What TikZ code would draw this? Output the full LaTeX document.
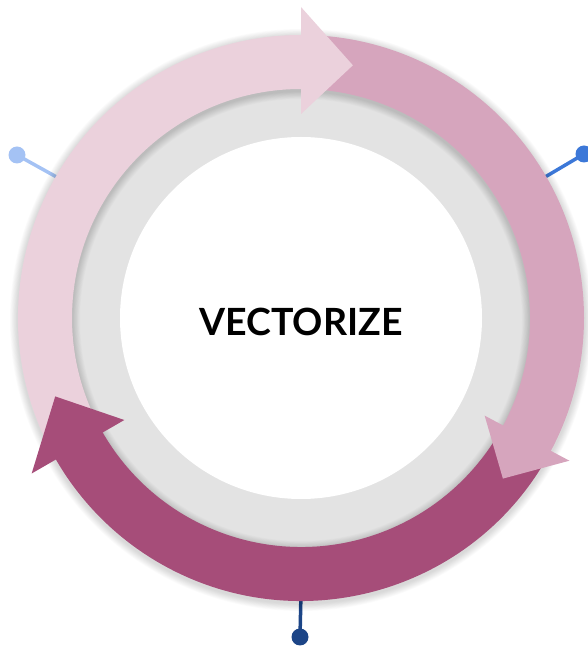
\documentclass[tikz,border=0pt]{standalone}
\usepackage{fontspec}
\setmainfont{Lato}
\usetikzlibrary{calc}
\definecolor{lightp}{HTML}{EBD1DC}
\definecolor{midp}{HTML}{D6A5BD}
\definecolor{darkp}{HTML}{A64D79}
\definecolor{ringgray}{HTML}{E3E3E3}
\definecolor{pinA}{HTML}{A4C2F4}
\definecolor{pinB}{HTML}{3C78D8}
\definecolor{pinC}{HTML}{1C4587}
\tikzset{
  pindot/.style={circle, inner sep=0pt, minimum size=17pt, draw=none},
  pinline/.style={line width=3.5pt},
  title/.style={font=\bfseries\fontsize{37.5}{42}\selectfont, text=black}
}
\begin{document}
\begin{tikzpicture}[x=1pt,y=1pt]
\useasboundingbox (0,0) rectangle (588,646);
\coordinate (C) at (301,328);
% inner gray ring and white disc
\fill[ringgray] (C) circle (230);
\fill[white] (C) circle (181);
% pins
\node[pindot, fill=pinA] (pa) at (17,491) {};
\node[pindot, fill=pinB] (pb) at (584,492) {};
\node[pindot, fill=pinC] (pc) at (300,9) {};
\coordinate (ea) at ($(C)+(150:275)$);
\coordinate (eb) at ($(C)+(30:275)$);
\coordinate (ec) at ($(C)+(270:275)$);
\draw[pinline, pinA] (pa.center) -- (ea);
\draw[pinline, pinB] (pb.center) -- (eb);
\draw[pinline, pinC] (pc.center) -- (ec);
% soft shadow of the arrow ring
\foreach \i in {1,...,10}{
  \pgfmathsetmacro\lw{54+1.6*\i}
  \draw[black, opacity=0.015, line width=\lw pt] ($(C)+(0,-2)$) circle (256);
}
% arrow bodies
\foreach \col/\a/\b in {lightp/210/88, midp/90/-31, darkp/-29.5/-152}{
  \fill[\col] ($(C)+(\a:283)$) arc[start angle=\a, end angle=\b, radius=283]
     -- ($(C)+(\b:229)$) arc[start angle=\b, end angle=\a, radius=229] -- cycle;
}
% arrow heads
\foreach \col/\b/\t/\ri/\ro in {lightp/90/78.4/204/311, midp/-28/-38.5/208/304, darkp/-150/-162.3/204/311}{
  \fill[\col] ($(C)+(\b:\ri)$) -- ($(C)+(\b:\ro)$) -- ($(C)+(\t:258)$) -- cycle;
}
% title
\node[title] (t) at ($(C)+(0,-4)$) {VECTORIZE};
\end{tikzpicture}
\end{document}
